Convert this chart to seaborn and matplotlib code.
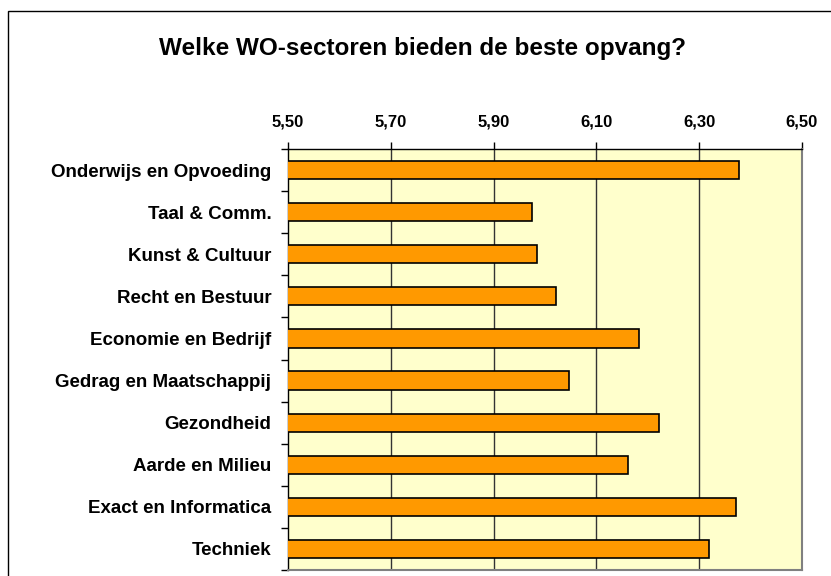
import matplotlib.pyplot as plt
import seaborn as sns
import pandas as pd
from matplotlib.patches import Rectangle
from matplotlib.ticker import FixedLocator, FuncFormatter

# gemiddelde score per sector
sectoren = [
    "Onderwijs en Opvoeding",
    "Taal & Comm.",
    "Kunst & Cultuur",
    "Recht en Bestuur",
    "Economie en Bedrijf",
    "Gedrag en Maatschappij",
    "Gezondheid",
    "Aarde en Milieu",
    "Exact en Informatica",
    "Techniek",
]
scores = [6.378, 5.974, 5.985, 6.022, 6.183, 6.047, 6.222, 6.161, 6.372, 6.320]
x_ticks = [5.50, 5.70, 5.90, 6.10, 6.30, 6.50]

TITLE = "Welke WO-sectoren bieden de beste opvang?"

df = pd.DataFrame({"sector": sectoren, "score": scores})

sns.set_style("ticks")
plt.rcParams['font.family'] = ['Liberation Sans', 'DejaVu Sans']
plt.rcParams['text.color'] = 'black'
plt.rcParams['xtick.color'] = 'black'
plt.rcParams['ytick.color'] = 'black'

fig = plt.figure(figsize=(8.31, 5.76), dpi=100)
W, H = 831, 576

# chart border (cut off on right and bottom like the original)
fig.patches.append(Rectangle((8 / W, -0.1), 1.2, (H - 11) / H + 0.1,
                             transform=fig.transFigure, fill=False,
                             edgecolor='black', linewidth=1.0))

ax = fig.add_axes([288 / W, 1 - 570 / H, (802 - 288) / W, (570 - 149) / H])
ax.set_facecolor('#FFFFCC')

sns.barplot(
    x='score',
    y='sector',
    data=df,
    ax=ax,
    orient='h',
    color='#FF9900',
    saturation=1,
    edgecolor='black',
    linewidth=1.2,
    width=0.43,
    zorder=3,
)

ax.set_xlim(5.5, 6.5)
ax.set_ylim(9.5, -0.5)

# vertical gridlines
for v in x_ticks[1:-1]:
    ax.axvline(v, color='#333333', linewidth=1.0, zorder=1)

ax.xaxis.tick_top()
ax.xaxis.set_major_locator(FixedLocator(x_ticks))
ax.xaxis.set_major_formatter(FuncFormatter(lambda v, p: f'{v:.2f}'.replace('.', ',')))
ax.tick_params(axis='x', direction='out', length=5, width=1, color='black', pad=9,
               labelsize=12, labelcolor='black')
for lab in ax.get_xticklabels():
    lab.set_fontweight('bold')

ax.yaxis.set_minor_locator(FixedLocator([i - 0.5 for i in range(len(sectoren) + 1)]))
ax.tick_params(axis='y', which='major', length=0, pad=12, labelsize=13.5,
               labelcolor='black')
ax.tick_params(axis='y', which='minor', direction='out', length=5, width=1, color='black')
for lab in ax.get_yticklabels():
    lab.set_fontweight('bold')

ax.set_xlabel('')
ax.set_ylabel('')

for side in ['left', 'top']:
    ax.spines[side].set_color('black')
    ax.spines[side].set_linewidth(1.0)
for side in ['right', 'bottom']:
    ax.spines[side].set_visible(True)
    ax.spines[side].set_color('#808080')
    ax.spines[side].set_linewidth(1.5)

fig.text(422 / W, 1 - 48 / H, TITLE, ha='center', va='center',
         fontsize=17.5, fontweight='bold', color='black')

fig.savefig('out.png', dpi=100)
